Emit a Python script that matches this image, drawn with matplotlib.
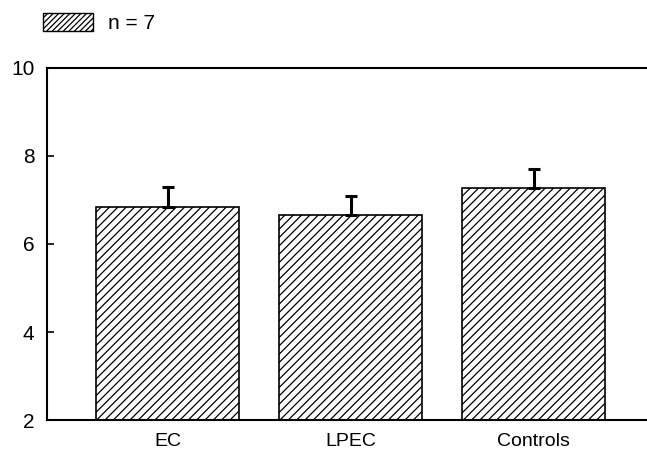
import numpy as np
import matplotlib.pyplot as plt
from matplotlib.patches import Patch

plt.rcParams['font.family'] = ['Liberation Sans', 'DejaVu Sans']
plt.rcParams['hatch.linewidth'] = 0.9

groups = ['EC', 'LPEC', 'Controls']
means = [6.85, 6.65, 7.27]
sem = [0.45, 0.43, 0.43]

fig = plt.figure(figsize=(6.47, 4.53), dpi=100)
ax = fig.add_axes([0.0726, 0.0728, 0.9274, 0.7772])

x = np.arange(len(groups))
ax.bar(x, [m - 2 for m in means], bottom=2, width=0.78, color='white',
       edgecolor='black', linewidth=1.2, hatch='////')
ax.errorbar(x, means, yerr=[np.zeros(len(sem)), sem], fmt='none',
            ecolor='black', elinewidth=2.2, capsize=4, capthick=2.2)

ax.set_xlim(-0.66, 2.62)
ax.set_ylim(2, 10)
ax.set_yticks([2, 4, 6, 8, 10])
ax.set_xticks(x)
ax.set_xticklabels(groups, fontsize=14)
ax.tick_params(axis='x', length=0, pad=9)
ax.tick_params(axis='y', direction='in', length=5, width=1.2, labelsize=15, pad=9)
ax.spines['right'].set_visible(False)
for s in ['left', 'top', 'bottom']:
    ax.spines[s].set_linewidth(1.5)

handle = Patch(facecolor='white', edgecolor='black', hatch='//////', linewidth=1)
fig.legend([handle], ['n = 7'], loc='upper left', bbox_to_anchor=(0.038, 1.012),
           frameon=False, fontsize=15, handlelength=2.4, handleheight=0.95,
           handletextpad=0.7)

fig.savefig('out.png', dpi=100)
